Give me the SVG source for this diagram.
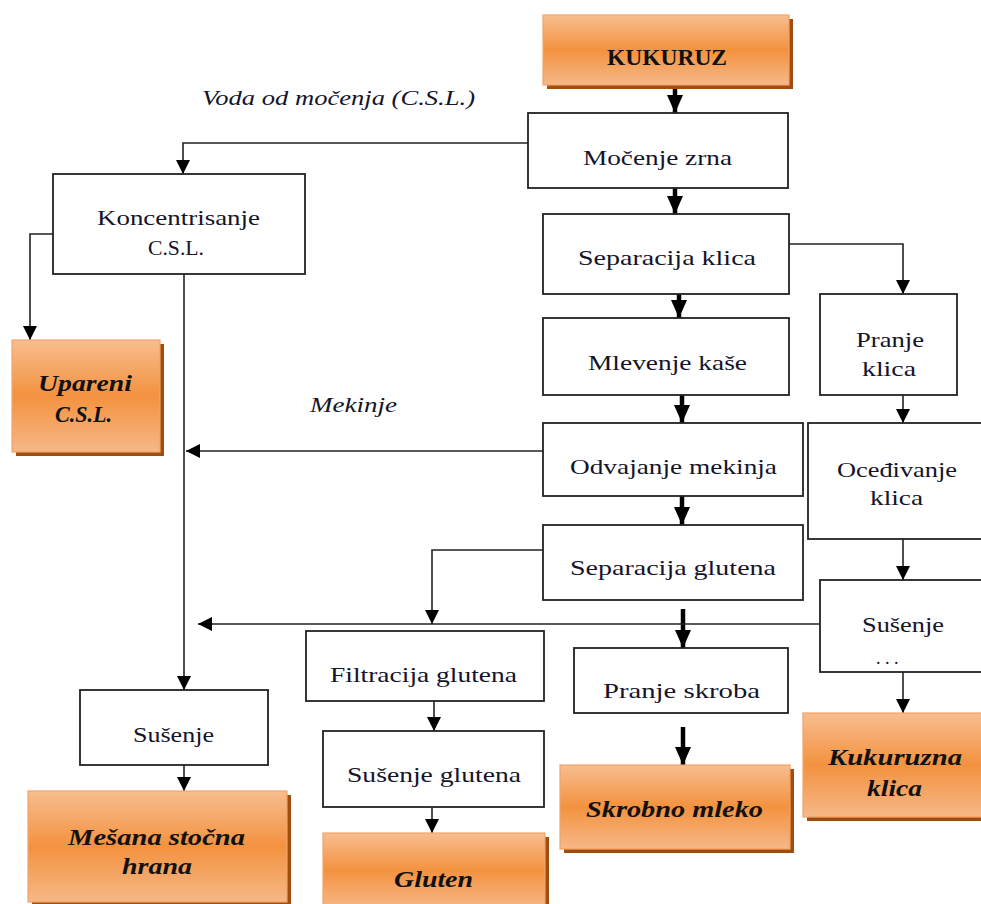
<svg xmlns="http://www.w3.org/2000/svg" width="981" height="904" viewBox="0 0 981 904">
<defs>
<linearGradient id="og" x1="0" y1="0" x2="0" y2="1">
<stop offset="0" stop-color="#f8bd8f"/>
<stop offset="0.5" stop-color="#f3923f"/>
<stop offset="1" stop-color="#f6b888"/>
</linearGradient>
<marker id="a" viewBox="0 0 14 14" refX="14" refY="7" markerWidth="14" markerHeight="14" markerUnits="userSpaceOnUse" orient="auto">
<path d="M0,0 L14,7 L0,14 z" fill="#000"/>
</marker>
<marker id="b" viewBox="0 0 18 16" refX="18" refY="8" markerWidth="18" markerHeight="16" markerUnits="userSpaceOnUse" orient="auto">
<path d="M0,0 L18,8 L0,16 z" fill="#000"/>
</marker>
</defs>
<style>
.box{fill:#fff;stroke:#222;stroke-width:1.8}
.ob{fill:url(#og);stroke:#f2a468;stroke-width:1.2}
.sh{fill:#a14d10}
.t{font-family:"Liberation Serif","DejaVu Serif",serif;font-size:22px;fill:#14142a}
.o{font-family:"Liberation Serif","DejaVu Serif",serif;font-size:24px;font-weight:bold;font-style:italic;fill:#111}
.k{font-family:"Liberation Serif","DejaVu Serif",serif;font-size:24px;font-weight:bold;fill:#111}
.l{font-family:"Liberation Serif","DejaVu Serif",serif;font-size:22px;font-style:italic;fill:#14142a}
.c{fill:none;stroke:#222;stroke-width:1.6}
.th{fill:none;stroke:#000;stroke-width:4.5}
</style>
<rect width="981" height="904" fill="#fff"/>

<g id="connectors">
<path class="th" d="M675,80 V113" marker-end="url(#b)"/>
<path class="th" d="M675,175 V214" marker-end="url(#b)"/>
<path class="th" d="M679,276 V318" marker-end="url(#b)"/>
<path class="th" d="M682,383 V423" marker-end="url(#b)"/>
<path class="th" d="M682,485 V525" marker-end="url(#b)"/>
<path class="th" d="M683,609 V648" marker-end="url(#b)"/>
<path class="th" d="M683,727 V765" marker-end="url(#b)"/>
<path class="c" d="M528,143 H183 V174" marker-end="url(#a)"/>
<path class="c" d="M53,234 H30 V340" marker-end="url(#a)"/>
<path class="c" d="M184,258 V690" marker-end="url(#a)"/>
<path class="c" d="M543,451 H186" marker-end="url(#a)"/>
<path class="c" d="M789,244 H903 V294" marker-end="url(#a)"/>
<path class="c" d="M903,395 V423" marker-end="url(#a)"/>
<path class="c" d="M903,539 V580" marker-end="url(#a)"/>
<path class="c" d="M903,672 V713" marker-end="url(#a)"/>
<path class="c" d="M543,550 H432 V624" marker-end="url(#a)"/>
<path class="c" d="M820,624 H198" marker-end="url(#a)"/>
<path class="c" d="M434,701 V731" marker-end="url(#a)"/>
<path class="c" d="M432,807 V833" marker-end="url(#a)"/>
<path class="c" d="M184,765 V791" marker-end="url(#a)"/>
</g>

<g id="labels">
<text class="l" x="202" y="105" textLength="273" lengthAdjust="spacingAndGlyphs">Voda od močenja (C.S.L.)</text>
<text class="l" x="310" y="412" textLength="87" lengthAdjust="spacingAndGlyphs">Mekinje</text>
</g>

<g id="kukuruz">
<rect class="sh" x="547" y="19" width="246" height="70"/>
<rect class="ob" x="543" y="15" width="246" height="70"/>
<text class="k" x="607" y="65" textLength="120" lengthAdjust="spacingAndGlyphs">KUKURUZ</text>
</g>

<g id="mocenje">
<rect class="box" x="528" y="113" width="260" height="75"/>
<text class="t" x="583" y="165" textLength="149" lengthAdjust="spacingAndGlyphs">Močenje zrna</text>
</g>

<g id="koncentrisanje">
<rect class="box" x="53" y="174" width="252" height="100"/>
<text class="t" x="97" y="225" textLength="163" lengthAdjust="spacingAndGlyphs">Koncentrisanje</text>
<text class="t" x="148" y="255" textLength="56" lengthAdjust="spacingAndGlyphs">C.S.L.</text>
</g>

<g id="upareni">
<rect class="sh" x="16" y="344" width="148" height="112"/>
<rect class="ob" x="12" y="340" width="148" height="112"/>
<text class="o" x="38" y="391" textLength="94" lengthAdjust="spacingAndGlyphs">Upareni</text>
<text class="o" x="55" y="422" textLength="57" lengthAdjust="spacingAndGlyphs">C.S.L.</text>
</g>

<g id="separacija-klica">
<rect class="box" x="543" y="214" width="246" height="80"/>
<text class="t" x="578" y="265" textLength="178" lengthAdjust="spacingAndGlyphs">Separacija  klica</text>
</g>

<g id="mlevenje">
<rect class="box" x="543" y="318" width="246" height="77"/>
<text class="t" x="588" y="370" textLength="159" lengthAdjust="spacingAndGlyphs">Mlevenje  kaše</text>
</g>

<g id="odvajanje">
<rect class="box" x="543" y="423" width="260" height="73"/>
<text class="t" x="570" y="474" textLength="207" lengthAdjust="spacingAndGlyphs">Odvajanje  mekinja</text>
</g>

<g id="separacija-glutena">
<rect class="box" x="543" y="525" width="260" height="75"/>
<text class="t" x="570" y="575" textLength="206" lengthAdjust="spacingAndGlyphs">Separacija  glutena</text>
</g>

<g id="pranje-klica">
<rect class="box" x="820" y="294" width="137" height="101"/>
<text class="t" x="856" y="347" textLength="68" lengthAdjust="spacingAndGlyphs">Pranje</text>
<text class="t" x="862" y="376" textLength="54" lengthAdjust="spacingAndGlyphs">klica</text>
</g>

<g id="ocedivanje">
<rect class="box" x="808" y="423" width="185" height="116"/>
<text class="t" x="837" y="477" textLength="120" lengthAdjust="spacingAndGlyphs">Oceđivanje</text>
<text class="t" x="870" y="505" textLength="53" lengthAdjust="spacingAndGlyphs">klica</text>
</g>

<g id="susenje-klica">
<rect class="box" x="820" y="580" width="173" height="92"/>
<text class="t" x="862" y="632" textLength="82" lengthAdjust="spacingAndGlyphs">Sušenje</text>
<text class="t" x="876" y="664" style="font-size:18px">. . .</text>
</g>

<g id="kukuruzna-klica">
<rect class="sh" x="807" y="717" width="180" height="104"/>
<rect class="ob" x="803" y="713" width="184" height="104"/>
<text class="o" x="828" y="765" textLength="134" lengthAdjust="spacingAndGlyphs">Kukuruzna</text>
<text class="o" x="867" y="796" textLength="55" lengthAdjust="spacingAndGlyphs">klica</text>
</g>

<g id="filtracija">
<rect class="box" x="306" y="631" width="238" height="70"/>
<text class="t" x="330" y="682" textLength="187" lengthAdjust="spacingAndGlyphs">Filtracija  glutena</text>
</g>

<g id="susenje-glutena">
<rect class="box" x="323" y="731" width="221" height="76"/>
<text class="t" x="347" y="782" textLength="174" lengthAdjust="spacingAndGlyphs">Sušenje  glutena</text>
</g>

<g id="gluten">
<rect class="sh" x="327" y="837" width="222" height="75"/>
<rect class="ob" x="323" y="833" width="222" height="75"/>
<text class="o" x="394" y="887" textLength="79" lengthAdjust="spacingAndGlyphs">Gluten</text>
</g>

<g id="pranje-skroba">
<rect class="box" x="574" y="648" width="214" height="65"/>
<text class="t" x="603" y="698" textLength="157" lengthAdjust="spacingAndGlyphs">Pranje  skroba</text>
</g>

<g id="skrobno-mleko">
<rect class="sh" x="564" y="769" width="230" height="84"/>
<rect class="ob" x="560" y="765" width="230" height="84"/>
<text class="o" x="586" y="817" textLength="177" lengthAdjust="spacingAndGlyphs">Skrobno mleko</text>
</g>

<g id="susenje">
<rect class="box" x="80" y="690" width="188" height="75"/>
<text class="t" x="133" y="742" textLength="81" lengthAdjust="spacingAndGlyphs">Sušenje</text>
</g>

<g id="mesana">
<rect class="sh" x="32" y="795" width="259" height="111"/>
<rect class="ob" x="28" y="791" width="259" height="111"/>
<text class="o" x="68" y="845" textLength="177" lengthAdjust="spacingAndGlyphs">Mešana stočna</text>
<text class="o" x="122" y="874" textLength="70" lengthAdjust="spacingAndGlyphs">hrana</text>
</g>
</svg>
